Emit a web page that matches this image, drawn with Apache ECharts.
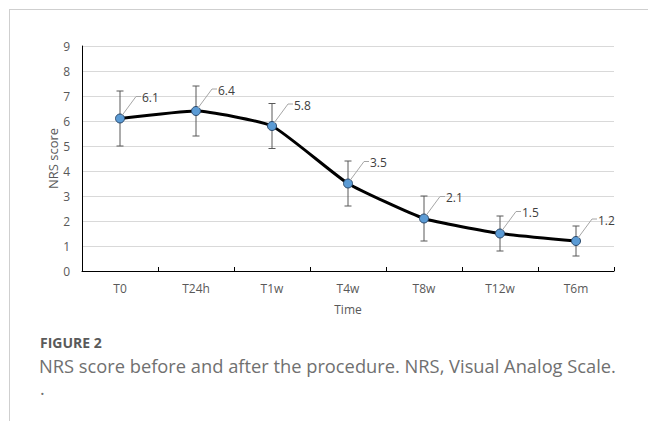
<!DOCTYPE html>
<html><head><meta charset="utf-8">
<script src="https://cdn.jsdelivr.net/npm/echarts@6/dist/echarts.min.js"></script>
<style>html,body{margin:0;padding:0;background:#fff}#c{width:648px;height:421px}</style>
</head><body><div id="c"></div>
<script>
const categories = ['T0','T24h','T1w','T4w','T8w','T12w','T6m'];
const meanValues = [6.1, 6.4, 5.8, 3.5, 2.1, 1.5, 1.2];
const lowerValues = [5.0, 5.4, 4.9, 2.6, 1.2, 0.8, 0.6];
const upperValues = [7.2, 7.4, 6.7, 4.4, 3.0, 2.2, 1.8];
const yTicks = [0,1,2,3,4,5,6,7,8,9];

const chart = echarts.init(document.getElementById('c'), null, {renderer:'svg'});
const font = "'Open Sans', 'Noto Sans', sans-serif";
const option = {
  animation:false,
  backgroundColor:'#fff',
  grid:{left:82,right:34,top:46,bottom:150},
  graphic:[
    {type:'line', shape:{x1:9,y1:9.5,x2:648,y2:9.5}, style:{stroke:'#cfcfcf',lineWidth:1}},
    {type:'line', shape:{x1:9.5,y1:9,x2:9.5,y2:421}, style:{stroke:'#cfcfcf',lineWidth:1}},
    {type:'text', left:40, top:335, style:{text:'FIGURE 2', font:"bold 14px 'Open Sans', sans-serif", fill:'#5a5a5a'}},
    {type:'text', left:39, top:356, style:{text:'NRS score before and after the procedure. NRS, Visual Analog Scale.', font:"18.3px 'Open Sans', sans-serif", fill:'#707070'}},
    {type:'text', left:40, top:379, style:{text:'.', font:"18px 'Open Sans', sans-serif", fill:'#707070'}}
  ],
  xAxis:{type:'category', data:categories, boundaryGap:true,
    name:'Time', nameLocation:'middle', nameGap:32,
    nameTextStyle:{fontFamily:font,fontSize:12,color:'#595959'},
    axisLine:{lineStyle:{color:'#000',width:1}},
    axisTick:{show:true,inside:true,length:4,lineStyle:{color:'#000'}},
    axisLabel:{fontFamily:font,fontSize:12,color:'#595959',margin:11},
    splitLine:{show:false}},
  yAxis:{type:'value', min:0, max:9, interval:1,
    name:'NRS score', nameLocation:'middle', nameGap:23, nameMoveOverlap:false,
    nameTextStyle:{fontFamily:font,fontSize:13,color:'#595959'},
    axisLine:{show:true,lineStyle:{color:'#000',width:1}},
    axisTick:{show:false},
    axisLabel:{fontFamily:font,fontSize:12,color:'#595959',margin:12},
    splitLine:{lineStyle:{color:'#d9d9d9',width:1}}},
  series:[
    {type:'custom', z:1,
      data: categories.map((c,i)=>[i, lowerValues[i], upperValues[i]]),
      renderItem:function(params, api){
        const lo = api.coord([api.value(0), api.value(1)]);
        const hi = api.coord([api.value(0), api.value(2)]);
        const x = lo[0], w = 3.5;
        const st = {stroke:'#595959', lineWidth:1};
        return {type:'group', children:[
          {type:'line', shape:{x1:x,y1:lo[1],x2:x,y2:hi[1]}, style:st},
          {type:'line', shape:{x1:x-w,y1:lo[1],x2:x+w,y2:lo[1]}, style:st},
          {type:'line', shape:{x1:x-w,y1:hi[1],x2:x+w,y2:hi[1]}, style:st}
        ]};
      }
    },
    {type:'line', z:3, data:meanValues, smooth:0.15,
      lineStyle:{color:'#000',width:3},
      symbol:'circle', symbolSize:9,
      itemStyle:{color:'#5b9bd5', borderColor:'#2d4a6b', borderWidth:1},
      label:{show:false}
    },
    {type:'custom', z:4,
      data: categories.map((c,i)=>[i, meanValues[i]]),
      renderItem:function(params, api){
        const p = api.coord([api.value(0), api.value(1)]);
        const v = api.value(1);
        return {type:'group', children:[
          {type:'polyline', shape:{points:[[p[0]+2,p[1]-3],[p[0]+16,p[1]-22],[p[0]+21,p[1]-22]]},
            style:{stroke:'#a6a6a6', lineWidth:1, fill:null}},
          {type:'text', style:{text:v.toFixed(1), x:p[0]+22, y:p[1]-21, textAlign:'left', textVerticalAlign:'middle',
            font:"12px 'Open Sans', 'Noto Sans', sans-serif", fill:'#404040'}}
        ]};
      }
    }
  ]
};
chart.setOption(option);
</script></body></html>
